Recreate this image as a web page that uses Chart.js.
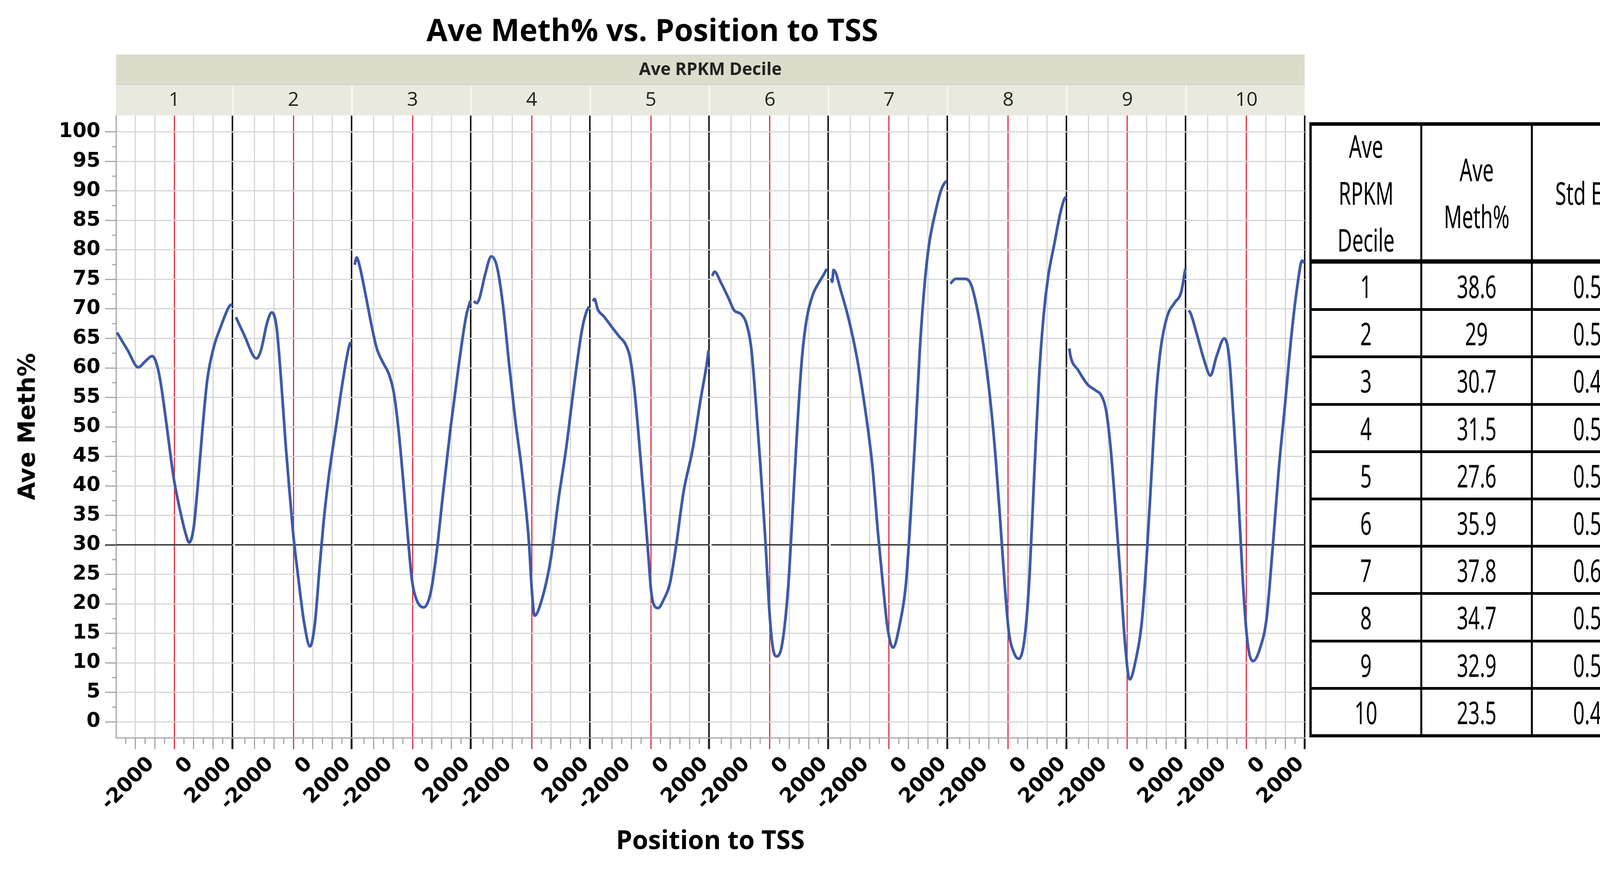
<!DOCTYPE html>
<html>
<head>
<meta charset="utf-8">
<title>Ave Meth% vs. Position to TSS</title>
<script src="https://cdn.jsdelivr.net/npm/chart.js"></script>
<style>
    html, body { margin: 0; padding: 0; background: #fff; }
    body { width: 4247px; height: 2225px; position: relative; overflow: hidden; }
    #chart-wrap { position: absolute; left: 0; top: 0; width: 3360px; height: 2225px; }
    #stats {
        position: absolute; left: 3352px; top: 313px; width: 855px; height: 1575px;
        box-sizing: border-box; background: #000; padding: 9px 5px 8px 6px;
        display: grid; grid-template-columns: 278px 278px 278px;
        grid-template-rows: 346px repeat(10, 114.2px); column-gap: 5px; row-gap: 7px;
    }
    #stats div {
        background: #fff; display: flex; align-items: center; justify-content: center;
        font-family: "Noto Sans", sans-serif; font-size: 80px; color: #000; text-align: center;
    }
    #stats div span { display: inline-block; transform: scaleX(0.64); line-height: 120px; }
    #stats div.head { margin-bottom: 4px; }
</style>
</head>
<body>
<div id="chart-wrap"><canvas id="methChart" width="3360" height="2225"></canvas></div>
<div id="stats"></div>

<script>
    // Ave Meth% by position to TSS, one facet per Ave RPKM decile: [position, meth%]
    const decile1 = [[-2950, 66.0], [-2400, 63.0], [-1850, 60.1], [-1500, 61.1], [-1130, 62.0], [-900, 60.6], [-700, 57.5], [-400, 50.5], [-160, 44.4], [0, 40.8], [270, 36.3], [590, 31.9], [770, 30.4], [1000, 32.9], [1220, 40.3], [1460, 49.8], [1700, 57.9], [2020, 63.3], [2400, 67.0], [2830, 70.4], [2970, 70.8]];
    const decile2 = [[-2960, 68.6], [-2550, 65.7], [-1900, 61.6], [-1670, 63.0], [-1350, 67.7], [-1110, 69.4], [-870, 67.0], [-630, 57.9], [-400, 47.1], [-160, 37.6], [0, 31.6], [240, 24.8], [560, 16.7], [860, 12.8], [1110, 16.7], [1350, 26.1], [1590, 34.9], [1830, 41.7], [2220, 50.5], [2620, 59.3], [2900, 64.0], [2980, 64.3]];
    const decile3 = [[-2980, 77.5], [-2880, 78.7], [-2720, 77.2], [-2400, 72.1], [-2080, 66.7], [-1840, 63.3], [-1520, 60.9], [-1210, 58.9], [-970, 55.9], [-730, 49.8], [-500, 41.7], [-260, 32.2], [-30, 24.1], [210, 20.7], [570, 19.4], [930, 21.8], [1250, 28.9], [1560, 38.3], [1960, 49.8], [2360, 59.9], [2760, 68.7], [2980, 71.4]];
    const decile4 = [[-2980, 71.3], [-2830, 71.0], [-2690, 71.8], [-2400, 75.8], [-2080, 78.9], [-1790, 77.2], [-1480, 70.7], [-1160, 60.6], [-840, 51.1], [-520, 43.0], [-130, 30.0], [0, 22.8], [150, 18.0], [430, 19.7], [980, 27.5], [1380, 37.6], [1780, 46.4], [2170, 56.6], [2570, 66.0], [2810, 69.4], [2970, 70.4]];
    const decile5 = [[-2980, 71.3], [-2900, 71.7], [-2730, 69.9], [-2410, 68.7], [-2020, 67.0], [-1620, 65.3], [-1300, 64.0], [-1060, 61.6], [-830, 55.9], [-590, 47.1], [-350, 37.6], [-110, 27.5], [20, 22.1], [180, 19.7], [380, 19.3], [660, 20.7], [980, 23.4], [1290, 29.5], [1690, 39.0], [2170, 46.4], [2560, 54.5], [2880, 60.6], [2980, 63.0]];
    const decile6 = [[-2980, 75.6], [-2850, 76.3], [-2530, 74.5], [-2130, 71.8], [-1830, 69.7], [-1520, 69.2], [-1200, 67.4], [-960, 63.3], [-720, 53.9], [-480, 43.0], [-250, 31.6], [-10, 18.0], [150, 12.6], [350, 11.1], [630, 13.2], [940, 22.8], [1180, 36.3], [1420, 50.5], [1660, 62.0], [1900, 68.4], [2210, 72.4], [2530, 74.5], [2770, 75.8], [2930, 76.8]];
    const decile7 = [[-2980, 75.2], [-2930, 74.6], [-2860, 76.6], [-2460, 72.8], [-2060, 68.0], [-1670, 62.0], [-1270, 53.9], [-870, 43.7], [-560, 31.6], [-320, 23.4], [-80, 16.0], [200, 12.6], [560, 16.7], [870, 23.4], [1110, 34.9], [1350, 48.4], [1590, 63.3], [1830, 74.1], [2060, 80.9], [2380, 86.3], [2700, 90.3], [2900, 91.5], [2980, 91.6]];
    const decile8 = [[-2980, 74.3], [-2710, 75.1], [-2230, 75.1], [-1910, 74.1], [-1520, 68.7], [-1200, 62.0], [-880, 53.2], [-640, 44.4], [-400, 33.6], [-170, 22.8], [30, 15.3], [310, 11.6], [550, 10.7], [860, 14.6], [1100, 24.8], [1340, 41.7], [1580, 57.9], [1820, 68.7], [2060, 75.5], [2370, 80.9], [2690, 86.3], [2890, 88.6], [2970, 89.0]];
    const decile9 = [[-2990, 63.3], [-2930, 62.0], [-2530, 59.6], [-2050, 57.2], [-1640, 56.2], [-1320, 55.2], [-1080, 52.5], [-840, 45.7], [-600, 35.6], [-360, 24.8], [-120, 13.3], [120, 7.2], [440, 10.6], [760, 17.4], [1000, 28.2], [1240, 41.7], [1480, 55.2], [1720, 63.3], [2050, 68.7], [2450, 71.1], [2770, 72.8], [2990, 76.8]];
    const decile10 = [[-2990, 69.7], [-2900, 69.4], [-2580, 66.0], [-2180, 61.3], [-1860, 58.7], [-1540, 62.0], [-1140, 65.0], [-900, 62.0], [-660, 51.1], [-420, 38.3], [-180, 23.4], [60, 13.3], [340, 10.3], [710, 12.6], [1030, 17.4], [1350, 29.5], [1670, 43.0], [1990, 53.9], [2310, 65.3], [2630, 74.1], [2870, 78.2], [2990, 77.8]];
    const series = [decile1, decile2, decile3, decile4, decile5, decile6, decile7, decile8, decile9, decile10];

    // summary table
    const deciles = ['1', '2', '3', '4', '5', '6', '7', '8', '9', '10'];
    const aveMeth = [38.6, 29, 30.7, 31.5, 27.6, 35.9, 37.8, 34.7, 32.9, 23.5];
    const stdErr = [0.5, 0.5, 0.4, 0.5, 0.5, 0.5, 0.6, 0.5, 0.5, 0.4];
    const tableHead = [['Ave', 'RPKM', 'Decile'], ['Ave', 'Meth%'], ['Std Err']];

    // axes
    const xLabels = [-2000, 0, 2000];
    const xGrid = [-3000, -2000, -1000, 0, 1000, 2000, 3000];
    const xMinor = [-2500, -1500, -500, 500, 1500, 2500];
    const yTicks = [0, 5, 10, 15, 20, 25, 30, 35, 40, 45, 50, 55, 60, 65, 70, 75, 80, 85, 90, 95, 100];
    const refLine = 30;

    const panelStep = 6140;   // 6000 per facet plus a small gap
    const lineBlue = '#3d5aa8';
    const red = '#dc3046';
    const black = '#1a1a1a';
    const gridGray = '#d6d6d6';
    const axisGray = '#a6a6a6';
    const clear = 'rgba(0,0,0,0)';

    const panelOf = v => Math.round(v / panelStep);
    const posOf = v => v - panelOf(v) * panelStep;

    const xTickValues = [];
    series.forEach((s, i) => xGrid.forEach(p => xTickValues.push(i * panelStep + p)));

    function buildTable() {
        const box = document.getElementById('stats');
        const add = (lines, head) => {
            const cell = document.createElement('div');
            if (head) cell.className = 'head';
            const span = document.createElement('span');
            lines.forEach((t, i) => {
                if (i) span.appendChild(document.createElement('br'));
                span.appendChild(document.createTextNode(t));
            });
            cell.appendChild(span);
            box.appendChild(cell);
        };
        tableHead.forEach(h => add(h, true));
        deciles.forEach((d, i) => {
            add([d]);
            add([String(aveMeth[i])]);
            add([String(stdErr[i])]);
        });
    }

    const facetPlugin = {
        id: 'facets',
        beforeDatasetsDraw(chart) {
            const {ctx, scales: {x, y}} = chart;
            const yRef = y.getPixelForValue(refLine);
            ctx.save();
            ctx.strokeStyle = black;
            ctx.lineWidth = 3;
            series.forEach((s, i) => {
                ctx.beginPath();
                ctx.moveTo(x.getPixelForValue(i * panelStep - 3000), yRef);
                ctx.lineTo(x.getPixelForValue(i * panelStep + 3000), yRef);
                ctx.stroke();
            });
            ctx.restore();
        },
        afterDraw(chart) {
            const {ctx, chartArea: a, scales: {x, y}} = chart;
            ctx.save();
            // facet strips
            const top1 = a.top - 156, top2 = a.top - 79;
            ctx.fillStyle = '#dcdbcc';
            ctx.fillRect(a.left, top1, a.right - a.left, top2 - top1);
            ctx.fillStyle = '#e9e9df';
            ctx.fillRect(a.left, top2, a.right - a.left, a.top - top2);
            ctx.fillStyle = '#f7f7f2';
            series.forEach((s, i) => {
                if (i === series.length - 1) return;
                const r = x.getPixelForValue(i * panelStep + 3000);
                ctx.fillRect(r - 1, top2, 4, a.top - top2);
            });
            ctx.fillStyle = '#cfcfbf';
            ctx.fillRect(a.left, top2 - 1, a.right - a.left, 2);

            ctx.fillStyle = '#222';
            ctx.textAlign = 'center';
            ctx.textBaseline = 'middle';
            ctx.font = 'bold 44px "Open Sans"';
            ctx.fillText('Ave RPKM Decile', (a.left + a.right) / 2, (top1 + top2) / 2 + 1);
            ctx.font = '50px "Open Sans"';
            deciles.forEach((d, i) => {
                ctx.fillText(d, x.getPixelForValue(i * panelStep), (top2 + a.top) / 2 + 1);
            });

            // minor ticks
            ctx.strokeStyle = axisGray;
            ctx.lineWidth = 3;
            series.forEach((s, i) => {
                xMinor.forEach(p => {
                    const px = x.getPixelForValue(i * panelStep + p);
                    ctx.beginPath();
                    ctx.moveTo(px, a.bottom);
                    ctx.lineTo(px, a.bottom + 16);
                    ctx.stroke();
                });
            });
            yTicks.forEach(v => {
                if (v + 2.5 > 100) return;
                const py = y.getPixelForValue(v + 2.5);
                ctx.beginPath();
                ctx.moveTo(a.left - 10, py);
                ctx.lineTo(a.left, py);
                ctx.stroke();
            });
            ctx.restore();
        }
    };

    function xGridColor(ctx, edge) {
        const p = posOf(ctx.tick.value);
        if (p === 0) return red;
        if (p === 3000) return black;
        if (p === -3000) return clear;
        return edge;
    }

    function renderChart() {
        const ctx = document.getElementById('methChart').getContext('2d');
        new Chart(ctx, {
            type: 'line',
            data: {
                datasets: series.map((pts, i) => ({
                    label: 'Decile ' + deciles[i],
                    data: pts.map(([p, m]) => ({x: i * panelStep + p, y: m})),
                    borderColor: lineBlue,
                    borderWidth: 7,
                    pointRadius: 0,
                    cubicInterpolationMode: 'monotone',
                    fill: false
                }))
            },
            options: {
                responsive: false,
                animation: false,
                devicePixelRatio: 1,
                layout: {padding: {left: 0, right: 20, top: 0, bottom: 0}},
                plugins: {
                    legend: {display: false},
                    tooltip: {enabled: false},
                    title: {
                        display: true,
                        text: 'Ave Meth% vs. Position to TSS',
                        color: '#000',
                        font: {family: 'Open Sans', weight: 'bold', size: 78},
                        padding: {top: 36, bottom: 166}
                    }
                },
                scales: {
                    x: {
                        type: 'linear',
                        min: -3000,
                        max: 9 * panelStep + 3000,
                        afterBuildTicks: s => { s.ticks = xTickValues.map(v => ({value: v})); },
                        afterFit: s => { s.height = 336; s.paddingLeft = 0; s.paddingRight = 0; },
                        ticks: {
                            autoSkip: false,
                            minRotation: 45,
                            maxRotation: 45,
                            padding: 8,
                            labelOffset: 40,
                            color: '#000',
                            font: {family: 'DejaVu Sans', weight: 'bold', size: 52},
                            callback: v => xLabels.includes(posOf(v)) ? String(posOf(v)) : ''
                        },
                        grid: {
                            color: c => xGridColor(c, gridGray),
                            lineWidth: c => posOf(c.tick.value) === 3000 ? 4 : 3,
                            tickColor: c => xGridColor(c, axisGray),
                            tickWidth: c => posOf(c.tick.value) === 3000 ? 5 : 3,
                            tickLength: 29
                        },
                        border: {display: true, color: axisGray, width: 3},
                        title: {
                            display: true,
                            text: 'Position to TSS',
                            color: '#000',
                            font: {family: 'Open Sans', weight: 'bold', size: 66},
                            padding: {top: 0, bottom: 30}
                        }
                    },
                    y: {
                        min: -2.7,
                        max: 102.8,
                        afterBuildTicks: s => { s.ticks = yTicks.map(v => ({value: v})); },
                        afterFit: s => { s.width = 297; s.paddingTop = 0; s.paddingBottom = 0; },
                        ticks: {
                            padding: 12,
                            color: '#000',
                            font: {family: 'DejaVu Sans', weight: 'bold', size: 51},
                            callback: v => String(v)
                        },
                        grid: {
                            color: gridGray,
                            lineWidth: 3,
                            tickLength: 28,
                            tickColor: c => c.tick.value === refLine ? black : axisGray,
                            tickWidth: 3
                        },
                        border: {display: true, color: axisGray, width: 3},
                        title: {
                            display: true,
                            text: 'Ave Meth%',
                            color: '#000',
                            font: {family: 'DejaVu Sans', weight: 'bold', size: 60},
                            padding: {top: 37, bottom: 0}
                        }
                    }
                }
            },
            plugins: [facetPlugin]
        });
    }

    buildTable();
    renderChart();
</script>
</body>
</html>
